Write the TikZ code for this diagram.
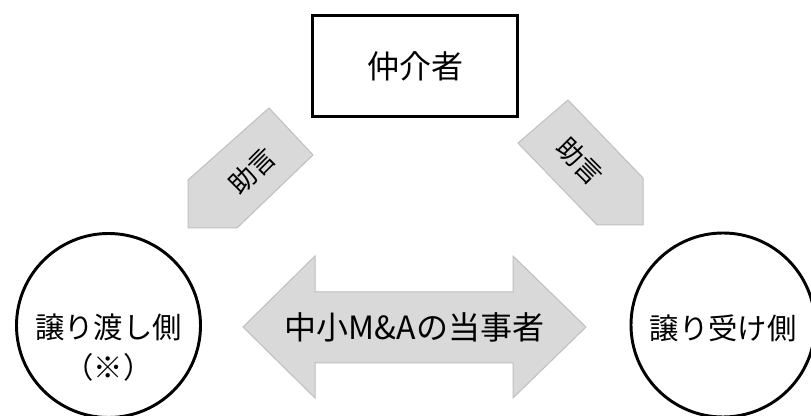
\documentclass[tikz,border=0pt]{standalone}
\usepackage{xcolor}
\usepackage{fontspec}
\setmainfont{Noto Sans CJK JP}
\usepackage{tikz}
\definecolor{arrowfill}{HTML}{D9D9D9}
\definecolor{arrowline}{HTML}{BFBFBF}

\begin{document}
\begin{tikzpicture}[x=0.75pt,y=-0.75pt,
    party/.style={circle, draw, line width=2.2pt, minimum size=138pt, inner sep=0pt},
    partytext/.style={align=center, font=\fontsize{22pt}{30pt}\selectfont},
    broker/.style={rectangle, draw, line width=2.2pt, minimum width=153.75pt,
                   minimum height=75.75pt, font=\fontsize{24pt}{28pt}\selectfont},
    blockarrow/.style={fill=arrowfill, draw=arrowline, line width=0.75pt, line join=miter},
    advicetext/.style={font=\fontsize{20pt}{24pt}\selectfont, inner sep=0pt},
    dealtext/.style={font=\fontsize{24pt}{28pt}\selectfont, inner sep=0pt}]
            \useasboundingbox (0,0) rectangle (811,416);
            % advice arrows
            \draw[blockarrow] (188,228) -- (188,180) -- (269,108) -- (313,155) -- (237,228) -- cycle;
            \draw[blockarrow] (643,225) -- (643,178) -- (568,100) -- (518,143) -- (597,225) -- cycle;
            \node[advicetext, rotate=45] (adviceL) at (252,171) {助言};
            \node[advicetext, rotate=-45] (adviceR) at (580,161) {助言};
            % two-way arrow between the parties
            \draw[blockarrow] (243,327) -- (315,256) -- (315,292) -- (513,292) -- (513,256)
                  -- (586,327) -- (513,398) -- (513,363) -- (315,363) -- (315,398) -- cycle;
            \node[dealtext] (deal) at (414.5,327) {中小M\&Aの当事者};
            % broker
            \node[broker] (broker) at (415,66) {仲介者};
            % parties
            \node[party] (seller) at (108.5,325.5) {};
            \node[partytext] (sellertext) at (108.5,348) {譲り渡し側\\（※）};
            \node[party] (buyer) at (723,325) {};
            \node[partytext] (buyertext) at (723,328) {譲り受け側};
          \end{tikzpicture}
\end{document}
